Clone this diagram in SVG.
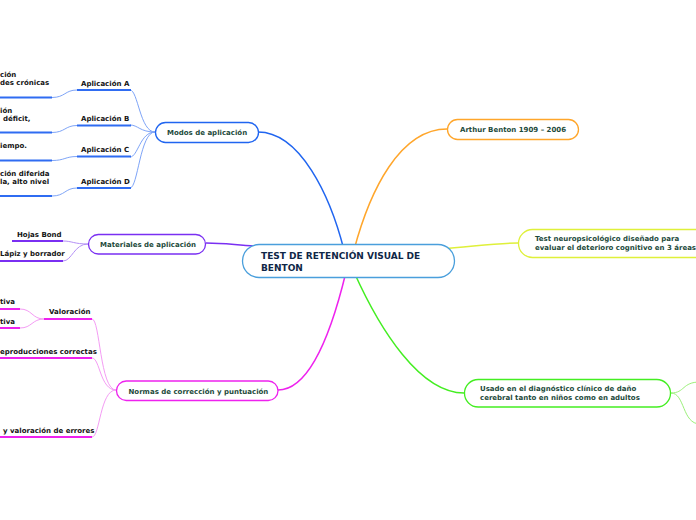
<svg xmlns="http://www.w3.org/2000/svg" width="696" height="520" viewBox="0 0 696 520">
<style>
text{font-family:"DejaVu Sans","Verdana",sans-serif;font-weight:bold;font-size:7px}
.node{fill:#fff;stroke-width:1.3}
.nt{fill:#1d4a3b}
.lt{fill:#141414}
.ct{fill:#0f2747;font-size:9px}
.c{fill:none}
.ub{stroke:#2f6cf2;stroke-width:2}
.cb{stroke:#7ea4f7;stroke-width:1}
.up{stroke:#7a2ff2;stroke-width:2}
.cp{stroke:#b490f6;stroke-width:1}
.um{stroke:#ee22ee;stroke-width:2}
.cm{stroke:#f49cf4;stroke-width:1}
.cg{stroke:#9bf07a;stroke-width:1}
</style>
<rect width="696" height="520" fill="#fff"/>
<g id="connectors" class="c">
<path d="M258,132 C300,132 330,195 344,250" stroke="#2065f0" stroke-width="1.5"/>
<path d="M447,129 C400,129 370,190 354,250" stroke="#ffa62b" stroke-width="1.5"/>
<path d="M440,249 C470,247 495,243 518,243" stroke="#dff03a" stroke-width="1.5"/>
<path d="M206,243 C225,243 235,245 255,246" stroke="#7a2ff2" stroke-width="1.5"/>
<path d="M278,390 C310,390 332,330 346,272" stroke="#ee22ee" stroke-width="1.5"/>
<path d="M354,272 C380,330 420,393 464,393" stroke="#44ee22" stroke-width="1.5"/>
<path d="M155,132 C140,132 138,90 130,90" class="cb"/>
<path d="M155,132 C140,132 138,125 130,125" class="cb"/>
<path d="M155,132 C140,132 138,157 130,157" class="cb"/>
<path d="M155,132 C140,132 138,188 130,188" class="cb"/>
<path d="M77,90 C65,90 65,97.5 52,97.5" class="cb"/>
<path d="M77,125.5 C65,125.5 65,132.5 52,132.5" class="cb"/>
<path d="M77,156.5 C65,156.5 65,160.5 52,160.5" class="cb"/>
<path d="M77,188 C65,188 65,196 52,196" class="cb"/>
<path d="M88,244 C74,244 72,241 63,241" class="cp"/>
<path d="M88,244 C74,244 72,261 63,261" class="cp"/>
<path d="M116,390 C100,390 100,319 92,319" class="cm"/>
<path d="M116,390 C100,390 100,358 92,358" class="cm"/>
<path d="M116,390 C100,390 100,437 92,437" class="cm"/>
<path d="M44,319 C32,319 32,309 20,309" class="cm"/>
<path d="M44,319 C32,319 32,328 20,328" class="cm"/>
<path d="M671,393 C685,393 682,382 700,382" class="cg"/>
<path d="M671,393 C685,393 682,424 700,424" class="cg"/>
</g>
<g id="central">
<rect x="242.5" y="244.5" width="212" height="33" rx="16.5" class="node" stroke="#4a9fdc"/>
<text x="261" y="259" class="ct">TEST DE RETENCIÓN VISUAL DE</text>
<text x="261" y="271" class="ct">BENTON</text>
</g>
<g id="modos">
<rect x="155.5" y="122.5" width="103" height="20" rx="10" class="node" stroke="#2065f0"/>
<text x="167" y="135" class="nt">Modos de aplicación</text>
</g>
<g id="aplA">
<text x="81" y="85.5" class="lt">Aplicación A</text>
<line x1="77" y1="90" x2="131" y2="90" class="ub"/>
</g>
<g id="leafA">
<text x="0" y="77" class="lt">ción</text>
<text x="0" y="85" class="lt">des crónicas</text>
<line x1="0" y1="97.5" x2="52" y2="97.5" class="ub"/>
</g>
<g id="aplB">
<text x="81" y="121" class="lt">Aplicación B</text>
<line x1="77" y1="125.5" x2="131" y2="125.5" class="ub"/>
</g>
<g id="leafB">
<text x="0" y="113" class="lt">ión</text>
<text x="3" y="121" class="lt">déficit,</text>
<line x1="0" y1="132.5" x2="52" y2="132.5" class="ub"/>
</g>
<g id="aplC">
<text x="81" y="152" class="lt">Aplicación C</text>
<line x1="77" y1="156.5" x2="131" y2="156.5" class="ub"/>
</g>
<g id="leafC">
<text x="0" y="147.5" class="lt">iempo.</text>
<line x1="0" y1="160.5" x2="52" y2="160.5" class="ub"/>
</g>
<g id="aplD">
<text x="81" y="184" class="lt">Aplicación D</text>
<line x1="77" y1="188" x2="131" y2="188" class="ub"/>
</g>
<g id="leafD">
<text x="0" y="176" class="lt">ción diferida</text>
<text x="0" y="183.5" class="lt">la, alto nivel</text>
<line x1="0" y1="196" x2="52" y2="196" class="ub"/>
</g>
<g id="materiales">
<rect x="88.5" y="234.5" width="117" height="19.5" rx="9.75" class="node" stroke="#7a2ff2"/>
<text x="100" y="247" class="nt">Materiales de aplicación</text>
</g>
<g id="hojas">
<text x="17" y="237" class="lt">Hojas Bond</text>
<line x1="12" y1="241" x2="63" y2="241" class="up"/>
</g>
<g id="lapiz">
<text x="0" y="256" class="lt">Lápiz y borrador</text>
<line x1="0" y1="261" x2="63" y2="261" class="up"/>
</g>
<g id="normas">
<rect x="116.5" y="381" width="161.5" height="19.5" rx="9.75" class="node" stroke="#ee22ee"/>
<text x="128.5" y="394" class="nt">Normas de corrección y puntuación</text>
</g>
<g id="valoracion">
<text x="49" y="314" class="lt">Valoración</text>
<line x1="44" y1="319" x2="92" y2="319" class="um"/>
</g>
<g id="tiva1">
<text x="0" y="303.5" class="lt">tiva</text>
<line x1="0" y1="309" x2="20" y2="309" class="um"/>
</g>
<g id="tiva2">
<text x="0" y="323.5" class="lt">tiva</text>
<line x1="0" y1="328" x2="20" y2="328" class="um"/>
</g>
<g id="reproducciones">
<text x="0" y="353.5" class="lt">eproducciones correctas</text>
<line x1="0" y1="358" x2="92" y2="358" class="um"/>
</g>
<g id="errores">
<text x="3" y="432.5" class="lt">y valoración de errores</text>
<line x1="0" y1="437" x2="92" y2="437" class="um"/>
</g>
<g id="arthur">
<rect x="447.5" y="119.5" width="131" height="20" rx="10" class="node" stroke="#ffa62b"/>
<text x="460" y="132" class="nt">Arthur Benton 1909 – 2006</text>
</g>
<g id="test">
<rect x="518.5" y="229.5" width="200" height="28" rx="14" class="node" stroke="#dff03a"/>
<text x="535" y="241" class="nt">Test neuropsicológico diseñado para</text>
<text x="535" y="250" class="nt">evaluar el deterioro cognitivo en 3 áreas</text>
</g>
<g id="usado">
<rect x="464.5" y="379.5" width="206" height="27.5" rx="13.75" class="node" stroke="#44ee22"/>
<text x="480" y="391" class="nt">Usado en el diagnóstico clínico de daño</text>
<text x="480" y="400" class="nt">cerebral tanto en niños como en adultos</text>
</g>
</svg>
